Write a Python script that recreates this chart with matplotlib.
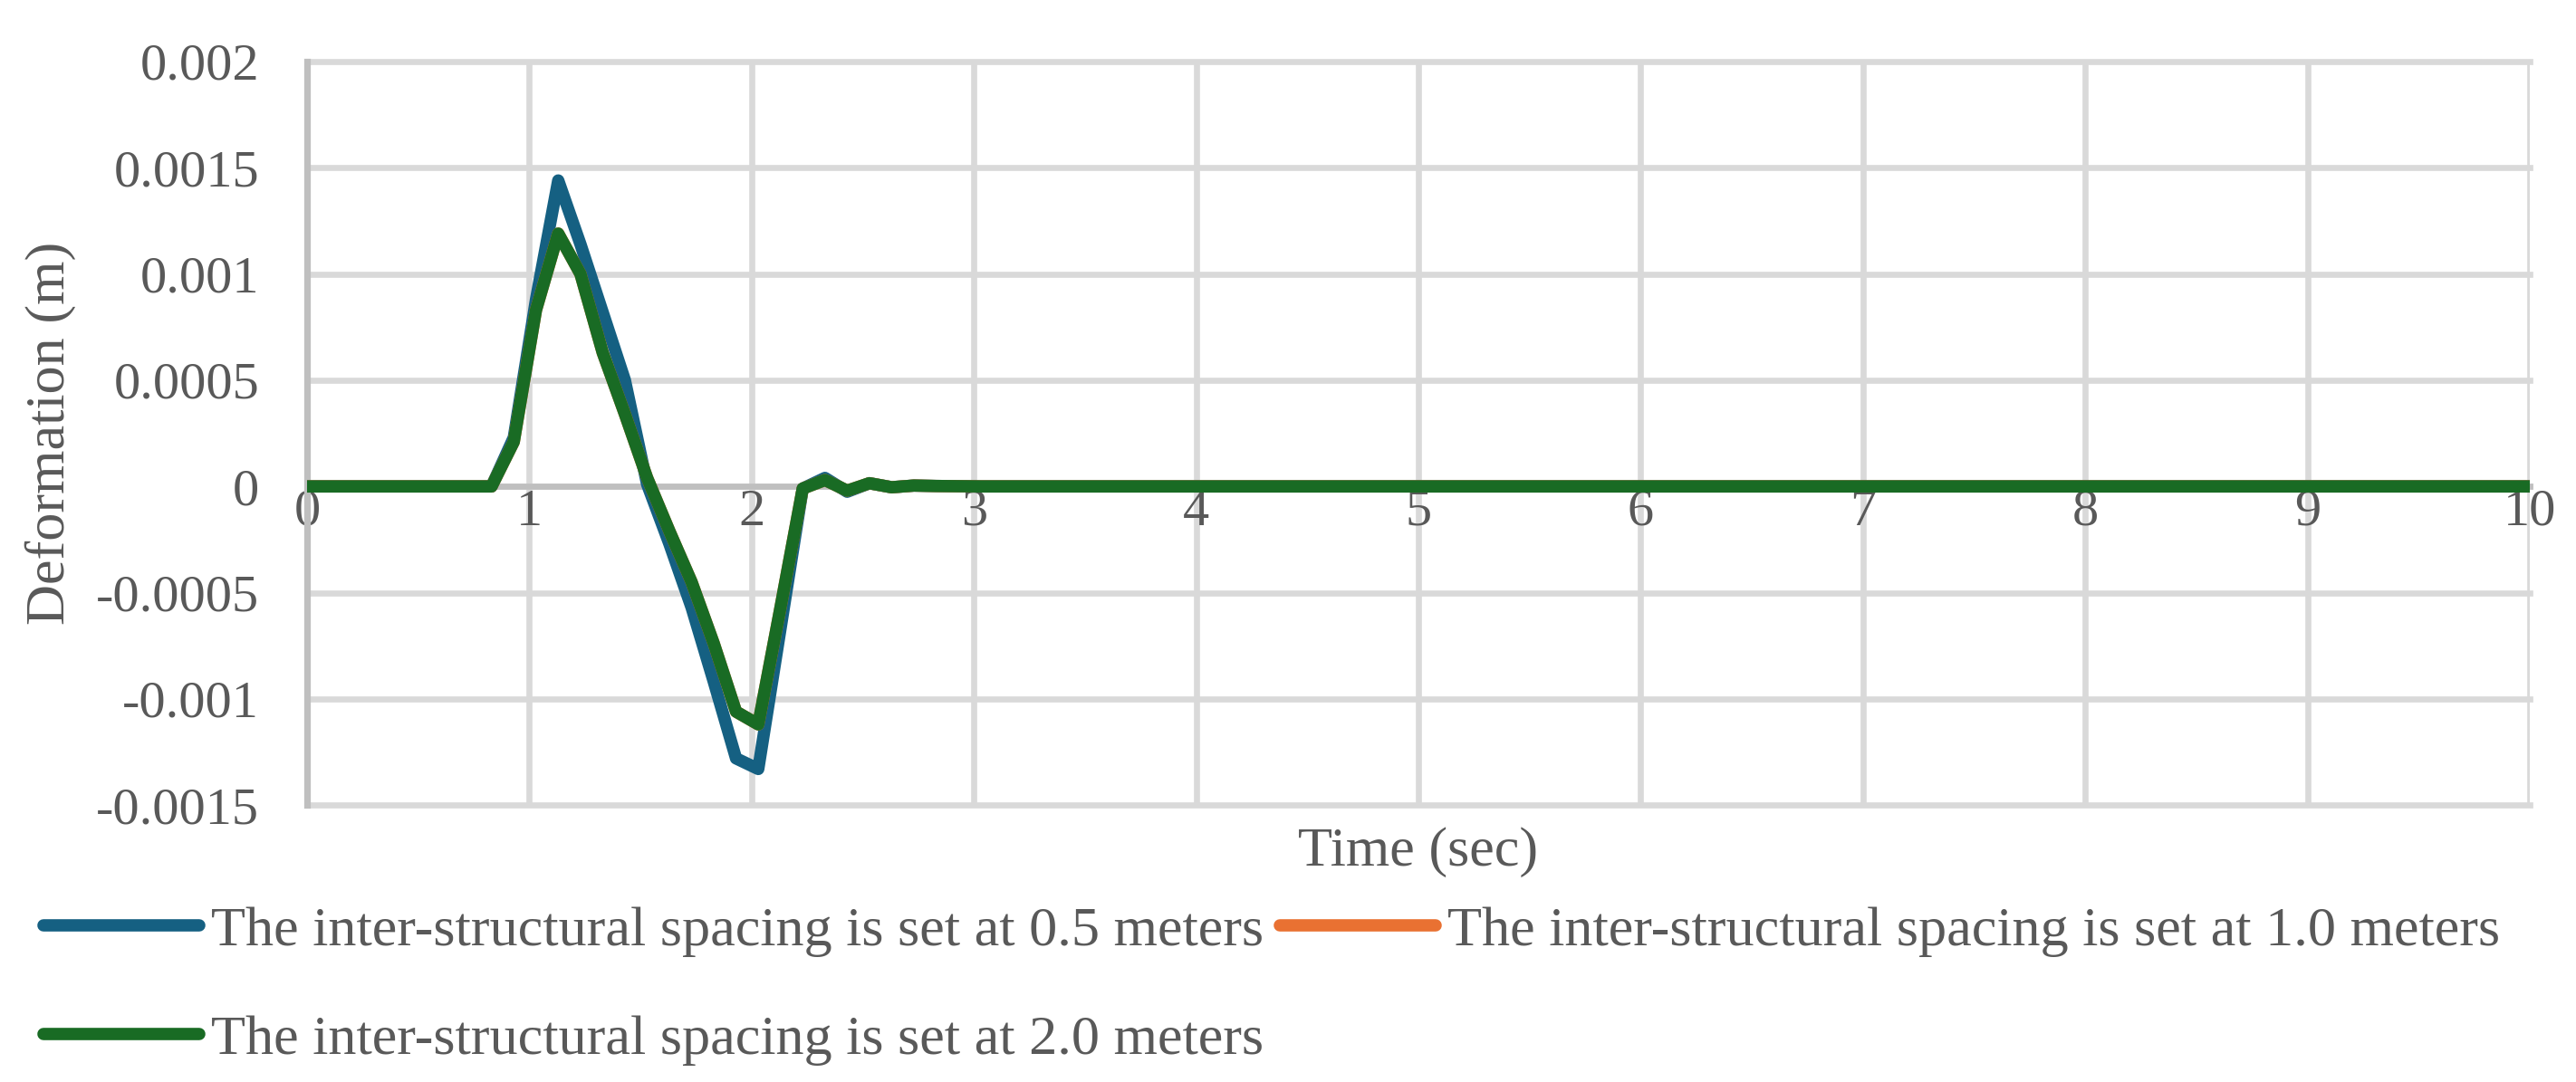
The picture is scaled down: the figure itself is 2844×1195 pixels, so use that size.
import matplotlib
matplotlib.use("Agg")
import matplotlib.pyplot as plt

# ---- data ----
time_s = [0, 0.83, 0.93, 1.03, 1.13, 1.23, 1.33, 1.43, 1.53, 1.63, 1.73, 1.83,
          1.93, 2.03, 2.13, 2.23, 2.33, 2.43, 2.53, 2.63, 2.73, 2.83, 2.93, 3.03, 10]
spacing_05 = [0, 0, 0.00023, 0.00088, 0.00144, 0.00114, 0.00082, 0.00050, 0.00001,
              -0.00027, -0.00057, -0.00092, -0.00128, -0.00133, -0.00067, -0.00001,
              0.00004, -0.000025, 0.000015, -0.000004, 0.000004, 0.000002, 0.000001, 0, 0]
spacing_10 = [0, 0, 0.00021, 0.00083, 0.00119, 0.00100, 0.00063, 0.00034, 0.00004,
              -0.00021, -0.00045, -0.00074, -0.00106, -0.00112, -0.00057, -0.00001,
              0.00003, -0.00002, 0.000015, -0.000004, 0.000004, 0.000002, 0.000001, 0, 0]
spacing_20 = [0, 0, 0.00021, 0.00083, 0.00119, 0.00100, 0.00063, 0.00034, 0.00004,
              -0.00021, -0.00045, -0.00074, -0.00106, -0.00112, -0.00057, -0.00001,
              0.00003, -0.00002, 0.000015, -0.000004, 0.000004, 0.000002, 0.000001, 0, 0]
series_labels = ["The inter-structural spacing is set at 0.5 meters",
                 "The inter-structural spacing is set at 1.0 meters",
                 "The inter-structural spacing is set at 2.0 meters"]
x_ticks = [0, 1, 2, 3, 4, 5, 6, 7, 8, 9, 10]
y_ticks = [-0.0015, -0.001, -0.0005, 0, 0.0005, 0.001, 0.0015, 0.002]
y_ticklabels = ["-0.0015", "-0.001", "-0.0005", "0", "0.0005", "0.001", "0.0015", "0.002"]

colors = ["#156082", "#E97132", "#196B24"]

plt.rcParams['font.family'] = ['Liberation Serif', 'DejaVu Serif']
TXT = "#595959"
GRID = "#D9D9D9"
AXIS = "#BFBFBF"

W, H, DPI = 2844, 1195, 200
fig = plt.figure(figsize=(W / DPI, H / DPI), dpi=DPI)
left, right = 339 / W, 2793 / W
top, bottom = 1 - 67.9 / H, 1 - 889.2 / H
ax = fig.add_axes([left, bottom, right - left, top - bottom])

handles = []
for ys, c, lab in zip([spacing_05, spacing_10, spacing_20], colors, series_labels):
    ln, = ax.plot(time_s, ys, color=c, lw=4.9, solid_capstyle='round',
                  solid_joinstyle='round', label=lab, zorder=3)
    handles.append(ln)

ax.set_xlim(0, 10)
ax.set_ylim(-0.0015, 0.002)
ax.set_xticks(x_ticks)
ax.set_xticklabels([str(v) for v in x_ticks])
ax.set_yticks(y_ticks)
ax.set_yticklabels(y_ticklabels)

ax.grid(True, color=GRID, lw=2.4, zorder=0)
for gl in ax.get_xgridlines() + ax.get_ygridlines():
    gl.set_clip_on(False)
ax.set_axisbelow(True)

for s in ['top', 'right']:
    ax.spines[s].set_visible(False)
ax.spines['bottom'].set_position(('data', 0))
ax.spines['bottom'].set_color(AXIS)
ax.spines['bottom'].set_linewidth(2.4)
ax.spines['bottom'].set_zorder(1)
ax.spines['left'].set_color(AXIS)
ax.spines['left'].set_linewidth(2.6)

ax.tick_params(axis='both', length=0, colors=TXT, labelsize=21)
ax.tick_params(axis='x', pad=1.0)
ax.tick_params(axis='y', pad=19)

ax.set_xlabel("Time (sec)", fontsize=22.4, color=TXT)
ax.xaxis.label.set_va('center')
ax.xaxis.set_label_coords(0.5, (889.2 - 941) / (889.2 - 67.9))
ax.set_ylabel("Deformation (m)", fontsize=22.4, color=TXT)
ax.yaxis.label.set_va('center')
ax.yaxis.set_label_coords((56 - 339) / 2454, 0.5)

leg = fig.legend([handles[0], handles[2], handles[1]],
                 [series_labels[0], series_labels[2], series_labels[1]],
                 ncol=2, loc='upper left', bbox_to_anchor=(48 / W, 1 - 1000 / H),
                 frameon=False, borderpad=0, borderaxespad=0, fontsize=22.4,
                 handlelength=2.77, handletextpad=0.2, columnspacing=0.29,
                 labelspacing=1.02, labelcolor=TXT)
for lh in leg.get_lines():
    lh.set_linewidth(4.9)
    lh.set_solid_capstyle('round')

fig.savefig("out.png", dpi=DPI, facecolor='white')
